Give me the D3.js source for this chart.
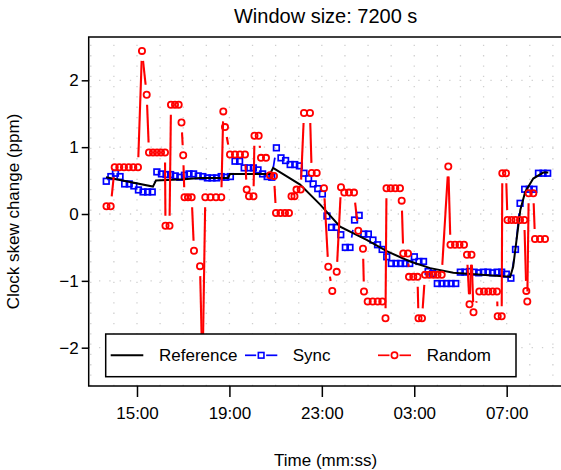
<!DOCTYPE html>
<html><head><meta charset="utf-8">
<script src="https://cdn.jsdelivr.net/npm/d3@7"></script>
<style>body{margin:0;background:#fff;} svg{display:block;font-family:"Liberation Sans",Arial,Helvetica,sans-serif;}</style>
</head><body>
<svg id="chart" width="561" height="470"></svg>
<script>
// ---------------- data ----------------
// Sync: regularly spaced samples
const syncStartHour = 13.67;
const syncStepHours = 0.199;
const sync = [0.49,0.56,0.61,0.56,0.45,0.45,0.42,0.36,0.33,0.33,0.33,0.63,0.60,0.59,0.59,0.57,0.55,0.58,0.60,0.60,
  0.57,0.56,0.54,0.54,0.54,0.56,0.55,0.56,0.79,0.79,0.69,0.69,0.69,0.66,0.60,0.56,0.55,0.99,0.84,0.80,
  0.74,0.74,0.72,0.61,0.53,0.45,0.38,0.30,-0.03,-0.20,-0.20,-0.31,-0.50,-0.50,-0.09,-0.02,-0.30,-0.30,-0.39,-0.46,
  -0.53,-0.64,-0.74,-0.74,-0.74,-0.74,-0.74,-0.64,-0.71,-0.71,-0.86,-0.89,-1.04,-1.04,-1.04,-1.04,-1.04,-0.87,-0.87,-0.86,
  -0.87,-0.88,-0.87,-0.87,-0.88,-0.87,-0.87,-0.90,-0.96,-0.53,0.16,0.37,0.37,0.37,0.61,0.61,0.61];
// Random: irregular sample times (hours) and values
const randomHours = [13.680,13.862,14.035,14.234,14.437,14.641,14.840,15.043,15.216,15.420,
  15.519,15.692,15.866,16.039,16.212,16.233,16.407,16.471,16.645,16.805,
  16.926,17.000,17.056,17.207,17.367,17.467,17.727,17.835,17.956,18.181,
  18.419,18.648,18.735,18.809,19.025,19.241,19.458,19.674,19.748,19.847,
  20.042,20.085,20.267,20.367,20.583,20.756,20.929,21.016,21.211,21.405,
  21.578,21.687,21.816,21.903,22.085,22.228,22.487,22.561,22.777,23.093,
  23.279,23.452,23.643,23.829,23.972,24.175,24.392,24.578,24.781,24.824,
  24.984,25.201,25.417,25.616,25.755,25.798,25.980,26.179,26.382,26.456,
  26.525,26.729,26.772,26.958,27.140,27.183,27.335,27.464,27.650,27.832,
  28.005,28.187,28.473,28.568,28.763,28.958,29.152,29.282,29.390,29.477,
  29.564,29.815,30.018,30.204,30.394,30.580,30.611,30.784,30.810,30.970,
  31.035,31.208,31.381,31.576,31.762,31.849,31.892,31.953,32.152,32.225,
  32.442,32.658];
const randomValues = [0.115,0.115,0.70,0.70,0.70,0.70,0.70,0.70,2.44,1.785,
  0.92,0.92,0.92,0.92,0.92,-0.175,-0.175,1.635,1.635,1.635,
  1.37,0.88,0.25,0.25,0.25,-0.55,-0.78,-2.38,0.25,0.25,
  0.25,0.25,1.535,1.30,0.89,0.89,0.89,0.89,0.365,0.265,
  0.265,1.17,1.17,0.84,0.84,0.58,0.57,0.015,0.015,0.015,
  0.015,0.265,0.265,0.365,0.365,1.51,1.51,0.615,0.615,0.385,
  -0.79,-1.15,-0.865,0.40,0.32,0.32,0.32,-0.25,-0.52,-1.16,
  -1.31,-1.31,-1.31,-1.31,-1.56,0.385,0.385,0.385,0.385,0.20,
  -0.59,-0.59,-0.94,-0.94,-0.94,-1.56,-1.56,-0.91,-0.91,-0.91,
  -0.91,-0.91,0.71,-0.46,-0.46,-0.46,-0.46,-0.61,-1.35,-0.61,
  -1.47,-1.16,-1.16,-1.16,-1.16,-1.16,-1.53,-1.53,0.61,0.61,
  -0.09,-0.09,-0.09,-0.09,-0.09,-1.15,-1.31,0.31,0.31,-0.375,
  -0.375,-0.375];
// Reference curve
const refHours = [13.66,15.69,15.82,17.03,17.73,18.94,19.03,20.76,20.89,22.06,22.93,23.79,24.96,25.83,26.82,27.69,28.69,31.15,31.28,31.59,31.80,32.15,32.58,32.80];
const refValues = [0.55,0.41,0.50,0.52,0.54,0.54,0.60,0.60,0.69,0.44,0.14,-0.19,-0.39,-0.56,-0.71,-0.81,-0.88,-0.94,-0.79,0.06,0.33,0.53,0.62,0.62];
const xTickHours = [15,19,23,27,31];
const xTickLabels = ["15:00","19:00","23:00","03:00","07:00"];
const yTicks = [-2,-1,0,1,2];
const gridHours = [13,14,15,16,17,18,19,20,21,22,23,24,25,26,27,28,29,30,31,32,33];
const seriesNames = ["Reference","Sync","Random"];
const title = "Window size: 7200 s";
const xTitle = "Time (mm:ss)";
const yTitle = "Clock skew change (ppm)";

// ---------------- layout ----------------
const svg = d3.select("#chart");
const L = 88.7, R = 562.6, T = 37, B = 386;
const x = d3.scaleLinear().domain([12.91, 33.42]).range([L, R]);
const y = d3.scaleLinear().domain([-2.573, 2.648]).range([B, T]);
const syncPts = sync.map((v,i)=>[syncStartHour + i*syncStepHours, v]);
const randPts = randomHours.map((h,i)=>[h, randomValues[i]]);
const SQ = 5.6, CR = 3.1;

svg.append("defs").append("clipPath").attr("id","plotclip")
  .append("rect").attr("x",L).attr("y",T).attr("width",R-L).attr("height",B-T);

// grid
const grid = svg.append("g").attr("stroke","#cfcfcf").attr("stroke-width",1.3)
  .attr("stroke-dasharray","1.3,9").attr("fill","none");
gridHours.forEach(h => grid.append("line").attr("x1",x(h)).attr("x2",x(h)).attr("y1",B).attr("y2",T));
yTicks.forEach(v => grid.append("line").attr("x1",L).attr("x2",R).attr("y1",y(v)).attr("y2",y(v)));

// gapped segments like R type="b"
function gapped(pts, gap){
  const segs = [];
  for (let i=0;i<pts.length-1;i++){
    const x0=x(pts[i][0]), y0=y(pts[i][1]), x1=x(pts[i+1][0]), y1=y(pts[i+1][1]);
    const dx=x1-x0, dy=y1-y0, len=Math.hypot(dx,dy);
    if (len <= 2*gap) continue;
    const ux=dx/len, uy=dy/len;
    segs.push([x0+ux*gap, y0+uy*gap, x1-ux*gap, y1-uy*gap]);
  }
  return segs;
}
const plot = svg.append("g").attr("clip-path","url(#plotclip)");

// Sync
const gS = plot.append("g");
gS.selectAll("line").data(gapped(syncPts, 10)).join("line")
  .attr("x1",d=>d[0]).attr("y1",d=>d[1]).attr("x2",d=>d[2]).attr("y2",d=>d[3])
  .attr("stroke","#0000ff").attr("stroke-width",1.7);
gS.selectAll("rect").data(syncPts).join("rect")
  .attr("x",d=>x(d[0])-SQ/2).attr("y",d=>y(d[1])-SQ/2).attr("width",SQ).attr("height",SQ)
  .attr("fill","none").attr("stroke","#0000ff").attr("stroke-width",1.7);

// Reference
plot.append("path").datum(refHours.map((h,i)=>[h,refValues[i]]))
  .attr("d", d3.line().x(d=>x(d[0])).y(d=>y(d[1])))
  .attr("fill","none").attr("stroke","#000").attr("stroke-width",2);

// Random
const gR = plot.append("g");
gR.selectAll("line").data(gapped(randPts, 10)).join("line")
  .attr("x1",d=>d[0]).attr("y1",d=>d[1]).attr("x2",d=>d[2]).attr("y2",d=>d[3])
  .attr("stroke","#ff0000").attr("stroke-width",2.1);
gR.selectAll("circle").data(randPts).join("circle")
  .attr("cx",d=>x(d[0])).attr("cy",d=>y(d[1])).attr("r",CR)
  .attr("fill","none").attr("stroke","#ff0000").attr("stroke-width",1.8);

// box
svg.append("rect").attr("x",L).attr("y",T).attr("width",R-L).attr("height",B-T)
  .attr("fill","none").attr("stroke","#000").attr("stroke-width",1.5);

// axes
const xAxis = d3.axisBottom(x).tickValues(xTickHours).tickFormat((d,i)=>xTickLabels[i]).tickSize(11).tickPadding(10);
const gx = svg.append("g").attr("transform",`translate(0,${B})`).call(xAxis);
gx.select(".domain").remove();
gx.selectAll(".tick line").attr("stroke","#000").attr("stroke-width",1.5);
gx.selectAll("text").attr("font-size",17).attr("fill","#000").attr("font-family","Liberation Sans, Arial, sans-serif");

const yAxis = d3.axisLeft(y).tickValues(yTicks).tickFormat(d=> d<0 ? "\u2212"+Math.abs(d) : String(d)).tickSize(7).tickPadding(3);
const gy = svg.append("g").attr("transform",`translate(${L},0)`).call(yAxis);
gy.select(".domain").remove();
gy.selectAll(".tick line").attr("stroke","#000").attr("stroke-width",1.5);
gy.selectAll("text").attr("font-size",17).attr("fill","#000").attr("font-family","Liberation Sans, Arial, sans-serif");

// titles
svg.append("text").attr("x",(L+R)/2).attr("y",23).attr("text-anchor","middle").attr("font-size",20).text(title);
svg.append("text").attr("x",(L+R)/2).attr("y",466).attr("text-anchor","middle").attr("font-size",17).text(xTitle);
svg.append("text").attr("transform",`translate(19,${(T+B)/2}) rotate(-90)`).attr("text-anchor","middle").attr("font-size",17).text(yTitle);

// legend
const lg = svg.append("g");
lg.append("rect").attr("x",105.7).attr("y",334).attr("width",410.3).attr("height",42.7)
  .attr("fill","#fff").attr("stroke","#000").attr("stroke-width",1.5);
const ly = 355.3;
const items = [
  {name:seriesNames[0], x1:110.7, x2:143.3, tx:159, color:"#000", mark:null},
  {name:seriesNames[1], x1:245, x2:277.3, tx:292.7, color:"#0000ff", mark:"square"},
  {name:seriesNames[2], x1:378, x2:411, tx:426.7, color:"#ff0000", mark:"circle"}
];
items.forEach(it=>{
  const cx=(it.x1+it.x2)/2;
  if(it.mark){
    lg.append("line").attr("x1",it.x1).attr("x2",cx-5).attr("y1",ly).attr("y2",ly).attr("stroke",it.color).attr("stroke-width",1.7);
    lg.append("line").attr("x1",cx+5).attr("x2",it.x2).attr("y1",ly).attr("y2",ly).attr("stroke",it.color).attr("stroke-width",1.7);
  } else {
    lg.append("line").attr("x1",it.x1).attr("x2",it.x2).attr("y1",ly).attr("y2",ly).attr("stroke",it.color).attr("stroke-width",2);
  }
  if(it.mark==="square") lg.append("rect").attr("x",cx-SQ/2).attr("y",ly-SQ/2).attr("width",SQ).attr("height",SQ).attr("fill","none").attr("stroke",it.color).attr("stroke-width",1.6);
  if(it.mark==="circle") lg.append("circle").attr("cx",cx).attr("cy",ly).attr("r",CR).attr("fill","none").attr("stroke",it.color).attr("stroke-width",1.7);
  lg.append("text").attr("x",it.tx).attr("y",ly+6).attr("font-size",17).text(it.name);
});
</script>
</body></html>
